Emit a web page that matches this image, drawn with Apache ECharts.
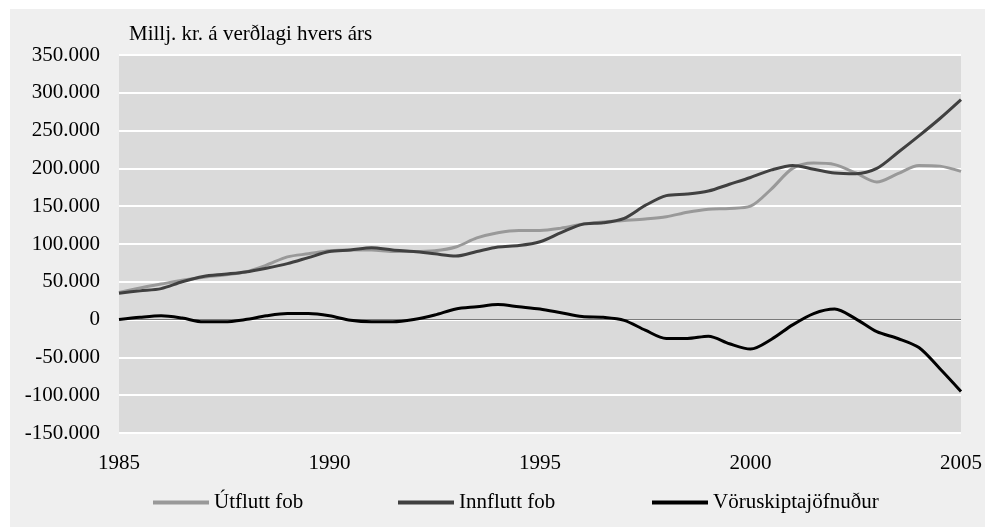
<!DOCTYPE html>
<html>
<head>
<meta charset="utf-8">
<script src="https://cdn.jsdelivr.net/npm/echarts@6/dist/echarts.min.js"></script>
<style>
html, body { margin: 0; padding: 0; background: #fff; }
#chart { width: 985px; height: 527px; }
</style>
</head>
<body>
<div id="chart"></div>
<script>
// half-year points, 1985 - 2005
var years = [1985, 1985.5, 1986, 1986.5, 1987, 1987.5, 1988, 1988.5, 1989, 1989.5,
  1990, 1990.5, 1991, 1991.5, 1992, 1992.5, 1993, 1993.5, 1994, 1994.5,
  1995, 1995.5, 1996, 1996.5, 1997, 1997.5, 1998, 1998.5, 1999, 1999.5,
  2000, 2000.5, 2001, 2001.5, 2002, 2002.5, 2003, 2003.5, 2004, 2004.5, 2005];

// Útflutt fob (millj. kr.)
var utflutt = [36000, 42000, 47000, 52000, 56000, 59000, 63000, 72000, 83000, 87000,
  91000, 92000, 92000, 90000, 90000, 91000, 96000, 108000, 115000, 118000,
  118000, 121000, 126000, 129000, 131000, 133000, 136000, 142000, 146000, 147000,
  150000, 173000, 200000, 207000, 205000, 194000, 182000, 193000, 204000, 203000, 196000];

// Innflutt fob (millj. kr.)
var innflutt = [35000, 38000, 41000, 50000, 57000, 60000, 63000, 68000, 74000, 82000,
  90000, 92000, 95000, 92000, 90000, 87000, 84000, 90000, 96000, 98000,
  103000, 115000, 126000, 128000, 134000, 151000, 164000, 166000, 170000, 179000,
  188000, 198000, 204000, 199000, 194000, 193000, 200000, 221000, 243000, 266000, 291000];

// Vöruskiptajöfnuður (millj. kr.)
var jofnudur = [0, 3000, 5000, 2000, -3000, -3000, 0, 5000, 8000, 8000,
  5000, -1000, -3000, -3000, 0, 6000, 14000, 17000, 20000, 17000,
  14000, 9000, 4000, 3000, -1000, -14000, -25000, -25000, -22000, -32000,
  -39000, -26000, -7000, 8000, 14000, 1000, -16000, -25000, -37000, -65000, -95000];

var seriesNames = ['Útflutt fob', 'Innflutt fob', 'Vöruskiptajöfnuður'];
var font = '"Liberation Serif", "Times New Roman", serif';

function pairs(vals) {
  return years.map(function (y, i) { return [y, vals[i]]; });
}

// 350000 -> 350.000
function fmt(v) {
  var s = Math.abs(v).toString().replace(/\B(?=(\d{3})+(?!\d))/g, '.');
  return (v < 0 ? '-' : '') + s;
}

var myChart = echarts.init(document.getElementById('chart'));

var legendBase = {
  bottom: 9,
  icon: 'rect',
  itemWidth: 56,
  itemHeight: 4,
  itemGap: 6,
  textStyle: { fontFamily: font, fontSize: 21, color: '#000' }
};

var option = {
  backgroundColor: '#fff',
  animation: false,
  graphic: [{
    type: 'rect',
    left: 10, top: 9,
    shape: { width: 975, height: 518 },
    style: { fill: '#efefef' },
    z: -10
  }],
  title: {
    text: 'Millj. kr. á verðlagi hvers árs',
    left: 124, top: 19,
    textStyle: { fontFamily: font, fontSize: 21, fontWeight: 'normal', color: '#000' }
  },
  legend: [
    Object.assign({ data: [seriesNames[0]], left: 148 }, legendBase),
    Object.assign({ data: [seriesNames[1]], left: 393 }, legendBase),
    Object.assign({ data: [seriesNames[2]], left: 647 }, legendBase)
  ],
  grid: {
    left: 119, right: 23, top: 55, bottom: 94,
    show: true, backgroundColor: '#dadada', borderWidth: 0
  },
  xAxis: {
    type: 'value',
    min: 1985, max: 2005, interval: 5,
    axisLine: { show: false },
    axisTick: { show: false },
    splitLine: { show: false },
    axisLabel: {
      fontFamily: font, fontSize: 21, color: '#000', margin: 20,
      formatter: function (v) { return String(v); }
    }
  },
  yAxis: {
    type: 'value',
    min: -150000, max: 350000, interval: 50000,
    axisLine: { show: false },
    axisTick: { show: false },
    splitLine: { lineStyle: { color: '#fff', width: 2 } },
    axisLabel: { fontFamily: font, fontSize: 21, color: '#000', margin: 19, formatter: fmt }
  },
  series: [
    {
      name: seriesNames[0], type: 'line', data: pairs(utflutt),
      smooth: 0.3, showSymbol: false, color: '#999999',
      lineStyle: { width: 3, color: '#999999' },
      markLine: {
        silent: true, symbol: 'none', z: 1,
        label: { show: false },
        lineStyle: { color: '#7a7a7a', width: 1, type: 'solid' },
        data: [{ yAxis: 0 }]
      }
    },
    {
      name: seriesNames[1], type: 'line', data: pairs(innflutt),
      smooth: 0.3, showSymbol: false, color: '#404040',
      lineStyle: { width: 3, color: '#404040' }
    },
    {
      name: seriesNames[2], type: 'line', data: pairs(jofnudur),
      smooth: 0.3, showSymbol: false, color: '#000',
      lineStyle: { width: 3, color: '#000' }
    }
  ]
};

myChart.setOption(option);
</script>
</body>
</html>
